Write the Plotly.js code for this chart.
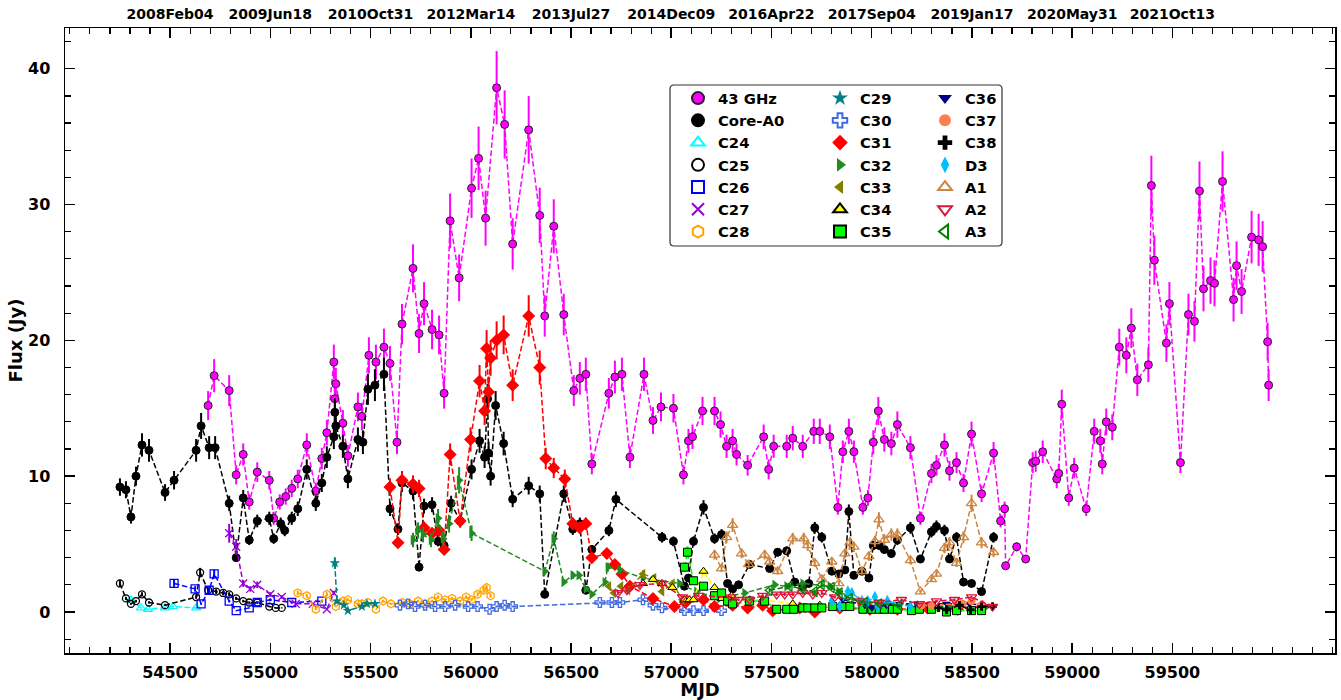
<!DOCTYPE html>
<html>
<head>
<meta charset="utf-8">
<script src="https://cdn.plot.ly/plotly-3.0.1.min.js"></script>
<style>html,body{margin:0;padding:0;background:#fff}#chart{width:1341px;height:700px}</style>
</head>
<body>
<div id="chart"></div>
<script>
// ---------------- data (MJD, flux in Jy) ----------------
const mjd_43 = [54690,54720,54795,54830,54865,54895,54935,54995,55017,55047,55077,55107,55137,55182,55227,55257,55282,55317,55322,55327,55362,55387,55437,55457,55492,55527,55567,55597,55632,55657,55712,55742,55767,55807,55842,55867,55897,55942,56004,56039,56074,56129,56169,56209,56289,56344,56369,56414,56464,56514,56544,56574,56604,56689,56719,56754,56794,56864,56909,56949,57011,57061,57086,57106,57156,57216,57246,57276,57306,57326,57381,57461,57486,57511,57576,57606,57656,57711,57741,57791,57831,57856,57886,57911,57956,57981,58008,58033,58063,58098,58128,58193,58243,58298,58323,58363,58388,58423,58458,58498,58548,58608,58643,58663,58668,58723,58768,58803,58818,58853,58923,58933,58948,58983,59010,59070,59110,59140,59150,59170,59200,59235,59270,59295,59325,59380,59395,59410,59470,59485,59540,59580,59610,59635,59655,59690,59710,59750,59805,59820,59845,59895,59930,59950,59975,59980];
const flux_43 = [15.2,17.4,16.3,10.1,11.6,8.1,10.3,9.7,6.9,8.1,8.5,9.1,9.8,12.3,8.9,11.3,13.2,18.4,15.7,16.8,13.9,11.5,15.1,14.4,18.9,18.4,19.5,18.3,12.5,21.2,25.3,20.5,22.7,20.8,20.4,16.1,28.8,24.6,31.2,33.4,29.0,38.6,35.9,27.1,35.5,29.2,21.8,28.4,21.9,16.3,17.2,17.5,10.9,16.1,17.3,17.5,11.4,17.5,14.1,15.1,15.0,10.1,12.6,12.9,14.8,14.8,13.8,12.2,12.6,11.6,10.8,12.9,10.5,12.2,12.2,12.8,12.2,13.3,13.3,12.9,7.7,11.8,13.3,11.8,7.7,8.4,12.5,14.8,12.7,12.4,13.8,12.1,6.9,10.2,10.8,12.3,10.4,11.0,9.5,13.1,8.7,11.7,6.7,7.6,3.4,4.8,3.9,11.0,11.1,11.8,9.8,10.2,15.3,8.4,10.6,7.6,13.3,12.6,10.9,14.0,13.6,19.5,18.9,20.9,17.1,18.2,31.4,25.9,19.8,22.7,11.0,21.9,21.4,31.0,23.8,24.4,24.2,31.7,23.0,25.5,23.6,27.6,27.4,26.9,19.9,16.7];

const mjd_core = [54250,54280,54305,54330,54360,54395,54475,54520,54630,54655,54695,54725,54795,54830,54865,54895,54935,54995,55017,55052,55072,55107,55137,55182,55227,55257,55282,55317,55322,55327,55362,55387,55437,55462,55487,55522,55567,55597,55637,55657,55712,55742,55767,55807,55837,55867,55902,55947,56004,56044,56069,56084,56089,56099,56124,56164,56209,56289,56344,56369,56464,56509,56544,56574,56604,56689,56724,56954,57011,57066,57086,57111,57161,57216,57251,57281,57306,57336,57391,57491,57531,57576,57616,57656,57686,57716,57751,57801,57836,57866,57886,57911,57951,57986,58008,58038,58063,58098,58128,58193,58243,58298,58323,58363,58388,58423,58458,58498,58548,58608];
const flux_core = [9.2,9.0,7.0,10.0,12.3,11.9,8.8,9.7,11.9,13.7,12.1,12.1,8.0,4.0,8.4,5.3,6.7,6.9,5.4,6.5,6.0,6.9,7.6,10.5,8.0,9.5,11.4,12.9,14.7,13.7,12.2,9.8,12.7,12.5,16.4,16.7,17.5,7.6,6.1,9.5,8.9,3.3,7.8,7.9,5.2,4.9,8.0,6.7,10.5,12.6,11.4,15.7,11.7,10.0,15.2,12.4,8.3,9.3,8.7,1.3,8.7,6.1,6.5,1.6,4.6,6.0,8.3,5.5,5.2,1.9,2.5,5.2,7.7,5.4,5.7,2.1,1.7,2.0,3.5,3.2,4.4,4.5,2.2,1.9,2.1,6.2,5.5,3.0,2.8,3.1,7.4,2.7,3.0,2.5,4.9,4.9,4.6,4.3,5.3,6.2,3.9,5.9,6.3,6.0,3.9,5.5,2.2,2.1,1.5,5.5];

const mjd_c24 = [54305,54355,54390,54475,54515,54630];
const flux_c24 = [0.9,0.3,0.2,0.3,0.4,0.3];

const mjd_c25 = [54250,54280,54305,54330,54360,54395,54475,54630,54650,54690,54730,54765,54795,54830,54865,54895,54935,54995,55027,55057];
const flux_c25 = [2.1,1.0,0.6,0.8,1.3,0.7,0.5,1.1,2.9,1.6,1.5,1.4,1.3,1.0,0.8,0.7,0.7,0.4,0.3,0.3];

const mjd_c26 = [54520,54625,54655,54695,54720,54795,54830,54895,54935,55000,55107,55257];
const flux_c26 = [2.1,1.7,0.6,1.6,2.8,0.8,0.1,0.3,0.7,0.9,0.7,0.8];

const mjd_c27 = [54795,54830,54865,54900,54935,55000,55057,55127,55212,55282,55317];
const flux_c27 = [5.8,4.8,2.1,1.7,2.0,1.3,1.1,0.6,0.6,0.2,1.4];

const mjd_c28 = [55137,55182,55227,55282,55327,55362,55387,55437,55457,55487,55527,55562,55602,55657,55697,55737,55772,55807,55837,55872,55907,55947,55977,56004,56034,56064,56079,56099];
const flux_c28 = [1.4,1.2,0.2,1.3,0.4,0.8,0.9,0.6,0.6,0.7,0.2,0.8,0.6,0.7,0.6,0.8,0.6,0.8,1.1,0.9,1.0,0.8,1.1,0.9,1.3,1.6,1.8,1.2];

const mjd_c29 = [55322,55332,55367,55387,55457,55482,55522];
const flux_c29 = [3.6,0.8,0.5,0.1,0.4,0.6,0.6];

const mjd_c30 = [55647,55687,55722,55772,55822,55872,55922,55987,56034,56094,56129,56169,56209,56644,56704,56744,56859,56909,56954,57066,57111,57161,57251];
const flux_c30 = [0.5,0.6,0.4,0.5,0.4,0.4,0.5,0.4,0.4,0.2,0.4,0.5,0.4,0.7,0.7,0.7,0.9,0.5,0.3,0.1,0.1,0.1,0.1];

const mjd_c31 = [55597,55637,55657,55712,55742,55767,55807,55842,55867,55897,55947,55999,56044,56069,56079,56089,56099,56129,56164,56209,56289,56344,56374,56414,56469,56509,56544,56574,56604,56679,56719,56754,56794,56909,57016,57071,57161,57216,57306,57381,57456,57506,57641,57716,57841,57991,58128,58278,58428,58553];
const flux_c31 = [9.2,5.1,9.7,9.4,9.1,6.2,5.8,6.0,4.6,11.6,6.7,12.7,17.0,14.8,19.4,16.2,18.7,20.0,20.4,16.7,21.8,18.0,11.3,10.6,9.8,6.5,6.2,6.5,4.0,4.3,3.5,2.8,1.9,1.0,0.4,0.7,0.9,0.4,0.5,0.3,0.5,0.1,0.3,0.0,0.3,0.2,0.2,0.3,0.2,0.4];

const mjd_c32 = [55712,55737,55762,55802,55837,55862,55892,55942,56004,56369,56414,56464,56509,56539,56574,56604,56669,56684,56744,56859,57041,57126,57241,57366,57516,57576,57656,57791,57836,57941,58088,58238,58388,58563];
const flux_c32 = [5.3,6.0,5.7,5.3,6.9,5.4,6.5,9.7,5.8,3.0,5.4,2.2,2.7,2.7,1.7,1.3,2.2,3.3,3.1,2.5,2.1,1.5,1.0,1.4,2.0,1.9,2.1,1.9,1.5,0.8,0.6,0.5,0.4,0.3];

const mjd_c33 = [56689,56714,56749,56784,56859,56914,56954,57006,57056];
const flux_c33 = [1.9,1.4,1.9,1.6,2.8,2.5,1.5,2.1,0.9];

const mjd_c34 = [56859,56909,56954,57006,57066,57091,57111,57161,57216,57251,57301,57391,57456,57606,57741,57866];
const flux_c34 = [2.1,2.4,2.1,1.8,0.9,0.9,0.9,3.0,1.8,1.0,1.2,0.9,0.9,0.6,0.5,0.4];

const mjd_c35 = [57066,57081,57111,57161,57216,57251,57281,57306,57391,57466,57526,57576,57611,57656,57681,57716,57751,57806,57856,57891,57956,58001,58038,58063,58103,58128,58198,58238,58298,58373,58423,58498,58548];
const flux_c35 = [3.3,4.4,2.3,1.9,1.2,1.4,0.8,0.6,0.8,0.8,0.2,0.2,0.2,0.3,0.3,0.3,0.3,0.4,0.4,0.4,0.2,0.2,0.2,0.2,0.2,0.2,0.1,0.2,0.2,0.0,0.1,0.1,0.1];

const mjd_c36 = [57856,57966,58001,58073,58138,58228,58303,58373,58423,58488,58548];
const flux_c36 = [0.9,0.5,0.3,0.5,0.6,0.6,0.6,0.6,0.6,0.6,0.5];

const mjd_c37 = [58248,58298,58423,58453,58498,58548];
const flux_c37 = [0.5,0.5,0.6,0.6,0.8,0.5];

const mjd_c38 = [58333,58373,58438,58493,58548,58603];
const flux_c38 = [0.3,0.15,0.5,0.15,0.4,0.4];

const mjd_d3 = [57801,57841,57881,57901,57951,57981,58016,58028,58078,58193];
const flux_d3 = [0.8,0.4,1.5,1.4,0.8,0.8,1.1,0.4,0.8,0.4];

const mjd_a1 = [57216,57251,57276,57306,57351,57386,57466,57491,57531,57606,57661,57681,57716,57751,57801,57836,57866,57891,57911,57951,57986,58016,58036,58063,58098,58128,58193,58243,58298,58323,58363,58388,58423,58458,58498,58548,58608];
const flux_a1 = [4.2,3.2,5.5,6.4,4.3,3.5,4.2,3.7,3.0,5.4,5.4,4.9,3.6,2.4,3.7,2.1,4.3,5.1,4.8,3.0,4.1,5.2,6.8,5.3,5.7,5.7,3.8,1.5,2.4,2.8,4.7,5.1,3.6,5.5,8.0,5.1,4.4];

const mjd_a2 = [56734,56779,56844,56954,57056,57136,57296,57336,57391,57456,57526,57566,57606,57656,57706,57751,57816,57941,58038,58148,58238,58323,58413,58498,58603];
const flux_a2 = [1.4,1.6,2.0,2.1,1.1,1.2,1.1,0.9,0.9,1.2,1.3,1.3,1.3,1.4,1.3,1.4,1.1,0.8,0.7,0.9,0.6,0.8,0.9,1.1,0.4];

const mjd_a3 = [57491,57591,57656,57716,57751,57801,57841,57891,57966,58038,58138];
const flux_a3 = [1.6,1.9,1.7,1.5,2.0,1.8,1.4,1.0,0.7,0.6,0.5];

const tickMJD = [54500,55000,55500,56000,56500,57000,57500,58000,58500,59000,59500];
const tickLabelsMJD = ['54500','55000','55500','56000','56500','57000','57500','58000','58500','59000','59500'];
const tickLabelsDate = ['2008Feb04','2009Jun18','2010Oct31','2012Mar14','2013Jul27','2014Dec09','2016Apr22','2017Sep04','2019Jan17','2020May31','2021Oct13'];

// ---------------- series definitions ----------------
// [name, x, y, color, symbol, size, edgeColor, errPercent, legend]
const series = [
  ['43 GHz',   mjd_43,   flux_43,   '#ff00ff', 'circle',              8, '#222', 7,  'legend'],
  ['Core-A0',  mjd_core, flux_core, '#000000', 'circle',              8, '#000', 7,  'legend'],
  ['C24',      mjd_c24,  flux_c24,  '#00ffff', 'triangle-up-open',    8, null,  12, 'legend'],
  ['C25',      mjd_c25,  flux_c25,  '#000000', 'circle-open',         7, null,  12, 'legend'],
  ['C26',      mjd_c26,  flux_c26,  '#0000ff', 'square-open',         8, null,  12, 'legend'],
  ['C27',      mjd_c27,  flux_c27,  '#9400d3', 'x-thin-open',         8, null,  12, 'legend'],
  ['C28',      mjd_c28,  flux_c28,  '#ffa500', 'hexagon-open',        8, null,  12, 'legend'],
  ['C29',      mjd_c29,  flux_c29,  '#008080', 'star',                8, null,  12, 'legend2'],
  ['C30',      mjd_c30,  flux_c30,  '#4169e1', 'cross-open',          8, null,  12, 'legend2'],
  ['C31',      mjd_c31,  flux_c31,  '#ff0000', 'diamond',             10, null, 7,  'legend2'],
  ['C32',      mjd_c32,  flux_c32,  '#228b22', 'triangle-right',      9, null,  10, 'legend2'],
  ['C33',      mjd_c33,  flux_c33,  '#808000', 'triangle-left',       9, null,  10, 'legend2'],
  ['C34',      mjd_c34,  flux_c34,  '#ffff00', 'triangle-up',         8, '#000', 10, 'legend2'],
  ['C35',      mjd_c35,  flux_c35,  '#00ff00', 'square',              8, '#000', 10, 'legend2'],
  ['C36',      mjd_c36,  flux_c36,  '#000080', 'triangle-down',       8, null,  12, 'legend3'],
  ['C37',      mjd_c37,  flux_c37,  '#ff7f50', 'circle',              8, null,  12, 'legend3'],
  ['C38',      mjd_c38,  flux_c38,  '#000000', 'cross',               7, null,  12, 'legend3'],
  ['D3',       mjd_d3,   flux_d3,   '#00bfff', 'diamond-tall',        9, null,  12, 'legend3'],
  ['A1',       mjd_a1,   flux_a1,   '#cd853f', 'triangle-up-open',    9, null,  8,  'legend3'],
  ['A2',       mjd_a2,   flux_a2,   '#dc143c', 'triangle-down-open',  9, null,  10, 'legend3'],
  ['A3',       mjd_a3,   flux_a3,   '#008000', 'triangle-left-open',  9, null,  10, 'legend3']
];

const traces = [];
series.forEach((s, i) => {
  const [name, x, y, color, symbol, size, edge, err, leg] = s;
  const last = (i === series.length - 1);
  traces.push({
    x: x, y: y, type: 'scatter', mode: 'lines', name: name + ' line',
    showlegend: false, hoverinfo: 'skip',
    line: {color: color, width: 1.5, dash: '5.5px,2.6px'}
  });
  const marker = {symbol: symbol, size: size, color: color};
  if (edge) marker.line = {color: edge, width: 1};
  else if (symbol.indexOf('open') >= 0 || symbol.indexOf('thin') >= 0) marker.line = {color: color, width: 1.3};
  else marker.line = {color: color, width: 0};
  const t = {
    x: x, y: y, type: 'scatter', mode: 'markers', name: name, legend: leg,
    marker: marker,
    error_y: {type: 'percent', value: err, color: color, thickness: 2, width: 0}
  };
  // the top (date) axis shares the MJD range; the last-drawn series is attached to it
  if (last) t.xaxis = 'x2';
  traces.push(t);
});

// ---------------- layout ----------------
const W = 1341, H = 700;
const L = 65, R = 1335, T = 28, B = 653;
const pw = R - L, ph = B - T;
const px = v => (v - L) / pw;
const py = v => (B - v) / ph;

const bold = (size) => ({family: 'DejaVu Sans, Arial, sans-serif', size: size, color: '#000', weight: 'bold'});
const xr = [53976, 60311];

const legendBase = {
  yanchor: 'top', xanchor: 'left', bgcolor: 'rgba(0,0,0,0)', borderwidth: 0,
  font: bold(14.8), itemsizing: 'constant', tracegroupgap: 0, y: py(82)
};

// rounded legend frame
const bx0 = px(670), bx1 = px(1002), by0 = py(246), by1 = py(85);
const rx = 4 / pw, ry = 4 / ph;
const framePath = `M ${bx0+rx},${by0} L ${bx1-rx},${by0} Q ${bx1},${by0} ${bx1},${by0+ry} L ${bx1},${by1-ry} Q ${bx1},${by1} ${bx1-rx},${by1} L ${bx0+rx},${by1} Q ${bx0},${by1} ${bx0},${by1-ry} L ${bx0},${by0+ry} Q ${bx0},${by0} ${bx0+rx},${by0} Z`;

const layout = {
  width: W, height: H,
  margin: {l: L, r: W - R, t: T, b: H - B, pad: 0},
  paper_bgcolor: '#fff', plot_bgcolor: '#fff',
  showlegend: true,
  xaxis: {
    range: xr, tickmode: 'array', tickvals: tickMJD, ticktext: tickLabelsMJD,
    ticks: 'inside', ticklen: 10, tickwidth: 1.5, tickcolor: '#000',
    minor: {tickmode: 'linear', dtick: 100, tick0: 54500, ticks: 'inside', ticklen: 6, tickwidth: 1.2, tickcolor: '#000', showgrid: false},
    showline: true, linecolor: '#000', linewidth: 1.5, mirror: false,
    showgrid: false, zeroline: false, tickfont: bold(16), ticklabelstandoff: 4,
    title: {text: 'MJD', font: bold(18), standoff: 0}
  },
  xaxis2: {
    range: xr, overlaying: 'x', side: 'top', anchor: 'y',
    tickmode: 'array', tickvals: tickMJD, ticktext: tickLabelsDate,
    ticks: 'inside', ticklen: 10, tickwidth: 1.5, tickcolor: '#000',
    minor: {tickmode: 'linear', dtick: 100, tick0: 54500, ticks: 'inside', ticklen: 6, tickwidth: 1.2, tickcolor: '#000', showgrid: false},
    showline: true, linecolor: '#000', linewidth: 1.5,
    showgrid: false, zeroline: false, tickfont: bold(14), ticklabelstandoff: 2
  },
  yaxis: {
    range: [-3.02, 43.0], tick0: 0, dtick: 10, ticks: 'inside', ticklen: 10, tickwidth: 1.5, tickcolor: '#000',
    minor: {dtick: 2, tick0: 0, ticks: 'inside', ticklen: 6, tickwidth: 1.2, tickcolor: '#000', showgrid: false},
    showline: true, linecolor: '#000', linewidth: 1.5, mirror: 'ticks',
    showgrid: false, zeroline: false, tickfont: bold(16), ticklabelstandoff: 10,
    title: {text: 'Flux (Jy)', font: bold(18), standoff: 0}
  },
  legend:  Object.assign({}, legendBase, {x: px(678)}),
  legend2: Object.assign({}, legendBase, {x: px(820)}),
  legend3: Object.assign({}, legendBase, {x: px(925)}),
  shapes: [{
    type: 'path', xref: 'paper', yref: 'paper', path: framePath,
    line: {color: '#333', width: 1.2}, fillcolor: 'rgba(255,255,255,0.85)', layer: 'above'
  }]
};

Plotly.newPlot('chart', traces, layout, {displayModeBar: false, staticPlot: true});
</script>
</body>
</html>
